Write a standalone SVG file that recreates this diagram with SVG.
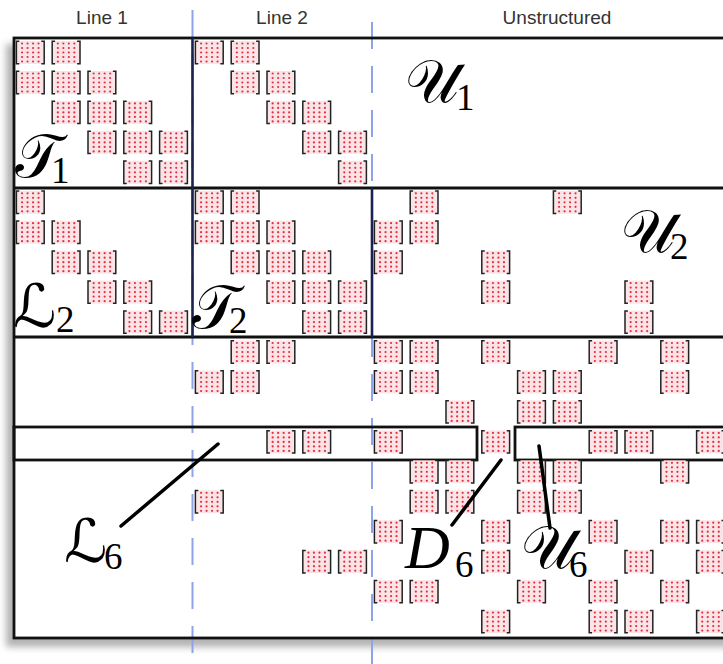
<svg xmlns="http://www.w3.org/2000/svg" width="723" height="664" viewBox="0 0 723 664">
<style>
  .hdr{font-family:"Liberation Sans",Arial,sans-serif;font-size:19px;fill:#333;text-anchor:middle}
  .frame{fill:none;stroke:#111;stroke-width:2.8}
  .navy{fill:none;stroke:#1b2150;stroke-width:2.6}
  .sep{fill:none;stroke:#8fa3e8;stroke-width:2;stroke-dasharray:27 17}
  .lead{stroke:#000;stroke-width:3.5;stroke-linecap:round}
  .lbl{font-family:"DejaVu Serif","DejaVu Sans",serif;font-size:60px;fill:#000}
  .it{font-family:"Liberation Serif","DejaVu Serif",serif;font-style:italic;font-size:62px}
  .sub{font-family:"Liberation Serif","DejaVu Serif",serif;font-style:normal;font-size:37px}
  .dot{fill:#e3303f}
</style>
<defs>
  <filter id="shadow" x="-5%" y="-5%" width="110%" height="110%">
    <feGaussianBlur stdDeviation="3.5"/>
  </filter>
  <!-- one dense sub-block: pink cell with 4x5 red entries between brackets -->
  <g id="blk">
    <rect x="1.5" y="0.5" width="28" height="23" fill="#fbe4e7"/>
    <g class="dot">
      <circle cx="7.25" cy="3" r="1.1"/><circle cx="12.75" cy="3" r="1.1"/><circle cx="18.25" cy="3" r="1.1"/><circle cx="23.75" cy="3" r="1.1"/>
      <circle cx="7.25" cy="7.5" r="1.1"/><circle cx="12.75" cy="7.5" r="1.1"/><circle cx="18.25" cy="7.5" r="1.1"/><circle cx="23.75" cy="7.5" r="1.1"/>
      <circle cx="7.25" cy="12" r="1.1"/><circle cx="12.75" cy="12" r="1.1"/><circle cx="18.25" cy="12" r="1.1"/><circle cx="23.75" cy="12" r="1.1"/>
      <circle cx="7.25" cy="16.5" r="1.1"/><circle cx="12.75" cy="16.5" r="1.1"/><circle cx="18.25" cy="16.5" r="1.1"/><circle cx="23.75" cy="16.5" r="1.1"/>
      <circle cx="7.25" cy="21" r="1.1"/><circle cx="12.75" cy="21" r="1.1"/><circle cx="18.25" cy="21" r="1.1"/><circle cx="23.75" cy="21" r="1.1"/>
    </g>
    <path d="M4.5,0.8H1.6V23.2H4.5M26.5,0.8H29.4V23.2H26.5" fill="none" stroke="#222" stroke-width="1.5"/>
  </g>
</defs>

<rect width="723" height="664" fill="#fff"/>

<!-- column headings -->
<g id="headings">
  <text class="hdr" x="102" y="24">Line 1</text>
  <text class="hdr" x="282" y="24">Line 2</text>
  <text class="hdr" x="557" y="24">Unstructured</text>
</g>

<!-- matrix outline with soft drop shadow -->
<rect x="6" y="44" width="740" height="603" fill="#999" opacity="0.75" filter="url(#shadow)"/>
<rect x="14" y="38" width="730" height="600" fill="#fff"/>

<!-- dashed column separators -->
<g id="separators">
  <line class="sep" x1="192.5" y1="10" x2="192.5" y2="664"/>
  <line class="sep" x1="372" y1="22" x2="372" y2="664"/>
</g>

<!-- partition lines -->
<g id="partition">
  <rect class="frame" x="14" y="38" width="730" height="600"/>
  <line class="frame" x1="14" y1="188" x2="744" y2="188"/>
  <line class="frame" x1="14" y1="337" x2="744" y2="337"/>
  <line class="navy" x1="192.5" y1="38" x2="192.5" y2="337"/>
  <line class="navy" x1="372" y1="188" x2="372" y2="337"/>
  <rect class="frame" x="14" y="427" width="463" height="33"/>
  <rect class="frame" x="515" y="427" width="230" height="33"/>
</g>

<!-- block row 1: T1 and U1 -->
<g id="T1">
  <use href="#blk" x="14.8" y="40.5"/><use href="#blk" x="50.6" y="40.5"/>
  <use href="#blk" x="14.8" y="70.5"/><use href="#blk" x="50.6" y="70.5"/><use href="#blk" x="86.4" y="70.5"/>
  <use href="#blk" x="50.6" y="100.4"/><use href="#blk" x="86.4" y="100.4"/><use href="#blk" x="122.2" y="100.4"/>
  <use href="#blk" x="86.4" y="130.4"/><use href="#blk" x="122.2" y="130.4"/><use href="#blk" x="158" y="130.4"/>
  <use href="#blk" x="122.2" y="160.3"/><use href="#blk" x="158" y="160.3"/>
  <use href="#blk" x="193.8" y="40.5"/><use href="#blk" x="229.6" y="40.5"/>
  <use href="#blk" x="229.6" y="70.5"/><use href="#blk" x="265.4" y="70.5"/>
  <use href="#blk" x="265.4" y="100.4"/><use href="#blk" x="301.2" y="100.4"/>
  <use href="#blk" x="301.2" y="130.4"/><use href="#blk" x="337" y="130.4"/>
  <use href="#blk" x="337" y="160.3"/>
  <text class="lbl" x="15" y="177">&#x1D4AF;<tspan class="sub" x="51" y="183">1</tspan></text>
</g>
<g id="U1">
  <text class="lbl" x="405" y="102">&#x1D4B0;<tspan class="sub" x="456" y="110">1</tspan></text>
</g>

<!-- block row 2: L2, T2, U2 -->
<g id="L2">
  <use href="#blk" x="14.8" y="190.3"/>
  <use href="#blk" x="14.8" y="220.2"/><use href="#blk" x="50.6" y="220.2"/>
  <use href="#blk" x="50.6" y="250.2"/><use href="#blk" x="86.4" y="250.2"/>
  <use href="#blk" x="86.4" y="280.1"/><use href="#blk" x="122.2" y="280.1"/>
  <use href="#blk" x="122.2" y="310.1"/><use href="#blk" x="158" y="310.1"/>
  <text class="lbl" x="13" y="327">&#x2112;<tspan class="sub" x="56" y="332">2</tspan></text>
</g>
<g id="T2">
  <use href="#blk" x="193.8" y="190.3"/><use href="#blk" x="229.6" y="190.3"/>
  <use href="#blk" x="193.8" y="220.2"/><use href="#blk" x="229.6" y="220.2"/><use href="#blk" x="265.4" y="220.2"/>
  <use href="#blk" x="229.6" y="250.2"/><use href="#blk" x="265.4" y="250.2"/><use href="#blk" x="301.2" y="250.2"/>
  <use href="#blk" x="265.4" y="280.1"/><use href="#blk" x="301.2" y="280.1"/><use href="#blk" x="337" y="280.1"/>
  <use href="#blk" x="301.2" y="310.1"/><use href="#blk" x="337" y="310.1"/>
  <text class="lbl" x="192" y="328">&#x1D4AF;<tspan class="sub" x="229" y="333">2</tspan></text>
</g>
<g id="U2">
  <use href="#blk" x="408.6" y="190.3"/><use href="#blk" x="551.8" y="190.3"/>
  <use href="#blk" x="372.8" y="220.2"/><use href="#blk" x="408.6" y="220.2"/>
  <use href="#blk" x="372.8" y="250.2"/><use href="#blk" x="480.2" y="250.2"/>
  <use href="#blk" x="480.2" y="280.1"/><use href="#blk" x="623.4" y="280.1"/>
  <use href="#blk" x="623.4" y="310.1"/>
  <text class="lbl" x="621" y="252">&#x1D4B0;<tspan class="sub" x="670" y="259">2</tspan></text>
</g>

<!-- block row 3: remaining rows, with the highlighted band L6 / D6 / U6 -->
<g id="lower">
  <use href="#blk" x="229.6" y="340"/><use href="#blk" x="265.4" y="340"/>
  <use href="#blk" x="372.8" y="340"/><use href="#blk" x="408.6" y="340"/><use href="#blk" x="480.2" y="340"/><use href="#blk" x="587.6" y="340"/><use href="#blk" x="659.2" y="340"/>
  <use href="#blk" x="193.8" y="370"/><use href="#blk" x="229.6" y="370"/>
  <use href="#blk" x="372.8" y="370"/><use href="#blk" x="408.6" y="370"/><use href="#blk" x="516" y="370"/><use href="#blk" x="551.8" y="370"/><use href="#blk" x="659.2" y="370"/>
  <use href="#blk" x="444.4" y="399.9"/><use href="#blk" x="516" y="399.9"/><use href="#blk" x="551.8" y="399.9"/>
  <use href="#blk" x="408.6" y="459.8"/><use href="#blk" x="444.4" y="459.8"/><use href="#blk" x="516" y="459.8"/><use href="#blk" x="551.8" y="459.8"/><use href="#blk" x="659.2" y="459.8"/>
  <use href="#blk" x="193.8" y="489.8"/>
  <use href="#blk" x="408.6" y="489.8"/><use href="#blk" x="444.4" y="489.8"/><use href="#blk" x="516" y="489.8"/><use href="#blk" x="551.8" y="489.8"/>
  <use href="#blk" x="372.8" y="519.7"/><use href="#blk" x="480.2" y="519.7"/><use href="#blk" x="587.6" y="519.7"/><use href="#blk" x="659.2" y="519.7"/><use href="#blk" x="695" y="519.7"/>
  <use href="#blk" x="301.2" y="549.7"/><use href="#blk" x="337" y="549.7"/>
  <use href="#blk" x="480.2" y="549.7"/><use href="#blk" x="623.4" y="549.7"/><use href="#blk" x="695" y="549.7"/>
  <use href="#blk" x="372.8" y="579.6"/><use href="#blk" x="408.6" y="579.6"/><use href="#blk" x="516" y="579.6"/><use href="#blk" x="587.6" y="579.6"/><use href="#blk" x="659.2" y="579.6"/>
  <use href="#blk" x="480.2" y="609.6"/><use href="#blk" x="587.6" y="609.6"/><use href="#blk" x="623.4" y="609.6"/><use href="#blk" x="695" y="609.6"/>
</g>
<g id="L6">
  <use href="#blk" x="265.4" y="429.9"/><use href="#blk" x="301.2" y="429.9"/>
  <use href="#blk" x="372.8" y="429.9"/>
  <text class="lbl" x="64" y="562">&#x2112;<tspan class="sub" x="104" y="569">6</tspan></text>
</g>
<g id="D6">
  <use href="#blk" x="480.2" y="429.9"/>
  <text class="it" x="405" y="568">D<tspan class="sub" x="455" y="577">6</tspan></text>
</g>
<g id="U6">
  <use href="#blk" x="587.6" y="429.9"/><use href="#blk" x="623.4" y="429.9"/><use href="#blk" x="695" y="429.9"/>
  <text class="lbl" x="521" y="568">&#x1D4B0;<tspan class="sub" x="569" y="577">6</tspan></text>
</g>

<!-- leader lines from labels to the band -->
<g id="connectors">
  <line class="lead" x1="121" y1="526" x2="218" y2="444"/>
  <line class="lead" x1="452" y1="525" x2="501" y2="460"/>
  <line class="lead" x1="550" y1="528" x2="539" y2="446"/>
</g>
</svg>
